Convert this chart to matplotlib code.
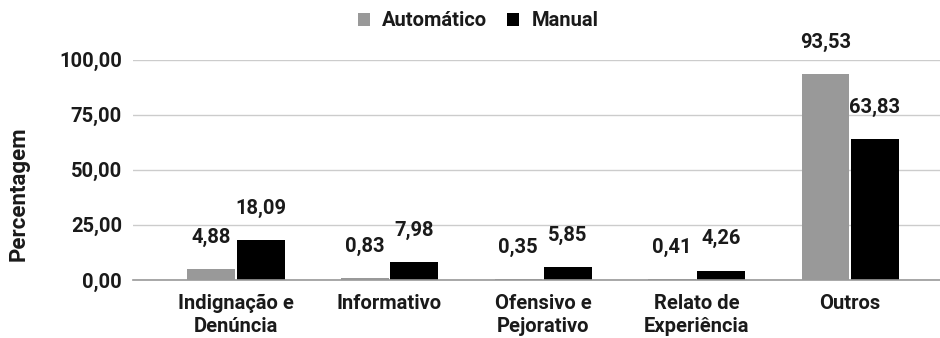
import matplotlib
matplotlib.use("Agg")
import matplotlib.pyplot as plt
import numpy as np

categories = ["Indignação e\nDenúncia", "Informativo", "Ofensivo e\nPejorativo",
              "Relato de\nExperiência", "Outros"]
automatico = [4.88, 0.83, 0.35, 0.41, 93.53]
manual = [18.09, 7.98, 5.85, 4.26, 63.83]
yticks = [0, 25, 50, 75, 100]

plt.rcParams['font.family'] = ['Roboto', 'DejaVu Sans']
plt.rcParams['font.weight'] = 'bold'

fig = plt.figure(figsize=(9.4, 3.38), dpi=100)
ax = fig.add_axes([133 / 940, 1 - 280 / 338, (940 - 133) / 940, (280 - 59.5) / 338])

x = np.arange(len(categories))
w = 0.31
gap = 0.006
b1 = ax.bar(x - w / 2 - gap, automatico, w, color="#999999", label="Automático", zorder=3)
b2 = ax.bar(x + w / 2 + gap, manual, w, color="#000000", label="Manual", zorder=3)

def fmt(v):
    return f"{v:.2f}".replace(".", ",")

FS = 14.5
TXT = "#1a1a1a"

for bars, vals in ((b1, automatico), (b2, manual)):
    for r, v in zip(bars, vals):
        ax.annotate(fmt(v), (r.get_x() + r.get_width() / 2, v), xytext=(0, 16),
                    textcoords="offset points", ha="center", va="bottom",
                    fontsize=FS, fontweight="bold", color=TXT)

ax.set_xlim(-0.671, 4.586)
ax.set_ylim(0, 100)
ax.set_yticks(yticks)
ax.set_yticklabels([fmt(t) for t in yticks])
ax.set_xticks(x)
ax.set_xticklabels(categories, linespacing=1.3)
ax.tick_params(axis="both", length=0, labelsize=FS, colors=TXT)
ax.tick_params(axis="y", pad=8)
ax.tick_params(axis="x", pad=10)
for lab in ax.get_xticklabels() + ax.get_yticklabels():
    lab.set_fontweight("bold")
ax.yaxis.grid(True, color="#cccccc", linewidth=1, zorder=0)
ax.set_axisbelow(True)
for s in ["top", "right", "left"]:
    ax.spines[s].set_visible(False)
ax.spines["bottom"].set_color("#999999")
ax.spines["bottom"].set_linewidth(1.2)
ax.spines["bottom"].set_zorder(4)

fig.text(19 / 940, 1 - 194 / 338, "Percentagem", rotation=90, ha="center", va="center",
         fontsize=16, fontweight="bold", color=TXT)

leg = fig.legend(handles=[b1, b2], labels=["Automático", "Manual"], loc="center",
                 bbox_to_anchor=(478 / 940, 1 - 21 / 338), ncol=2, frameon=False,
                 prop={"size": FS, "weight": "bold"}, handlelength=0.6, handleheight=0.6,
                 handletextpad=0.6, columnspacing=1.0)
for t in leg.get_texts():
    t.set_color(TXT)

fig.savefig("out.png", dpi=100)
